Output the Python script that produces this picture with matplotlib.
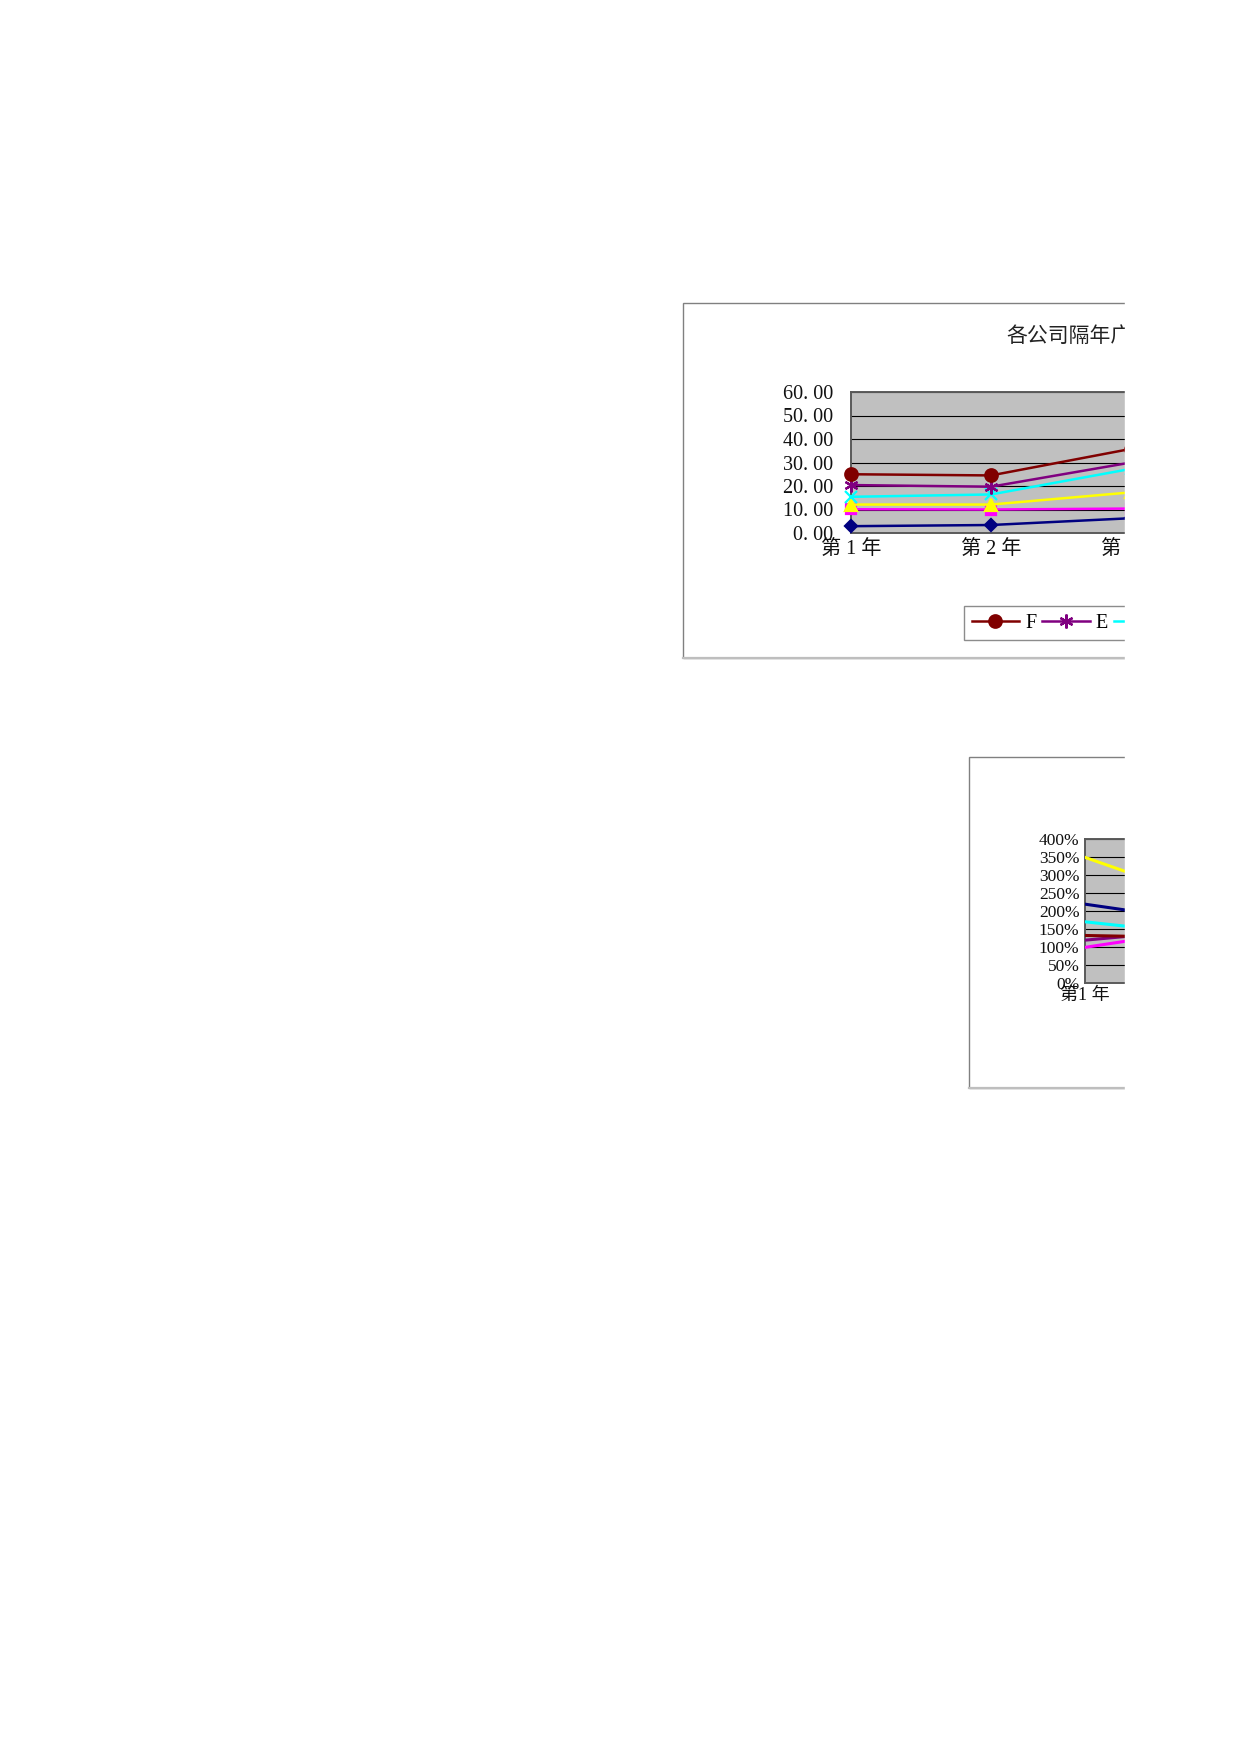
import matplotlib
matplotlib.use('Agg')
import matplotlib.pyplot as plt
from matplotlib.patches import Rectangle
from matplotlib.lines import Line2D
from matplotlib.ticker import FuncFormatter, MultipleLocator

W, H = 1240, 1754

# chart 1: yearly values per company
years1 = ['第 1 年', '第 2 年', '第 3 年']
a1 = [2.9, 3.4, 6.3]
b1 = [10.1, 10.0, 10.4]
c1 = [12.1, 12.1, 17.3]
d1 = [15.4, 16.4, 27.3]
e1 = [20.4, 19.7, 30.0]
f1 = [25.0, 24.5, 35.8]

# chart 2: growth rates (%)
years2 = ['第1 年', '第2 年', '第3 年']
a2 = [219, 179, 170]
b2 = [99, 141, 150]
c2 = [349, 252, 230]
d2 = [170, 140, 135]
e2 = [119, 144, 150]
f2 = [132, 127, 125]

title1 = '各公司隔年广告费'

serif = ['Liberation Serif', 'Noto Sans CJK SC']
cjk = ['Noto Sans CJK SC', 'DejaVu Sans']

fig = plt.figure(figsize=(W / 100, H / 100), dpi=100)
fig.patch.set_facecolor('white')


def box(x0, y0, x1, y1):
    return [x0 / W, 1 - y1 / H, (x1 - x0) / W, (y1 - y0) / H]


# outer chart frames
for (x0, y0, x1, y1) in [(683, 303, 1300, 658), (969, 757, 1300, 1088)]:
    fig.patches.append(Rectangle((x0 / W, 1 - y1 / H), (x1 - x0) / W, (y1 - y0) / H,
                                 transform=fig.transFigure, fill=False,
                                 edgecolor='#808080', lw=1.0))
    fig.lines.append(Line2D([x0 / W, x1 / W], [1 - y1 / H, 1 - y1 / H],
                            transform=fig.transFigure, color='#BEBEBE', lw=1.6))

# drawn A first (bottom) ... F last, legend lists F first
styles = [
    ('A', '#000080', 'D', 6),
    ('B', '#FF00FF', 's', 7),
    ('C', '#FFFF00', '^', 9),
    ('D', '#00FFFF', 'x', 8),
    ('E', '#800080', (6, 2, 0), 10),
    ('F', '#800000', 'o', 9),
]


def style_axes(ax, lw_spine):
    ax.set_facecolor('#C0C0C0')
    for s in ax.spines.values():
        s.set_color('#5A5A5A')
        s.set_linewidth(lw_spine)
    ax.yaxis.grid(True, color='black', lw=0.8)
    ax.set_axisbelow(True)


# ---- chart 1
ax1 = fig.add_axes(box(851, 392, 1131, 533))
style_axes(ax1, 1.4)
series1 = [a1, b1, c1, d1, e1, f1]
x1 = list(range(len(years1)))
for i, ((name, col, mk, ms), vals) in enumerate(zip(styles, series1)):
    ax1.plot(x1, vals, color=col, lw=1.8, marker=mk, markersize=ms,
             markeredgewidth=1.6, label=name, clip_on=False, zorder=3 + i)
ax1.set_xlim(0, len(years1) - 1)
ax1.set_ylim(0, 60)
ax1.yaxis.set_major_locator(MultipleLocator(10))
ax1.yaxis.set_major_formatter(FuncFormatter(lambda v, p: f'{v:.2f}'.replace('.', '. ')))
ax1.set_xticks(x1)
ax1.set_xticklabels(years1)
ax1.tick_params(length=0)
ax1.tick_params(axis='y', pad=13)
ax1.tick_params(axis='x', pad=6)
for lab in ax1.get_yticklabels() + ax1.get_xticklabels():
    lab.set_fontfamily(serif)
    lab.set_fontsize(14.5)
    lab.set_color('#111111')

fig.text(1006 / W, 1 - 336 / H, title1, family=cjk, fontsize=15,
         color='#222222', ha='left', va='center')

h, l = ax1.get_legend_handles_labels()
leg = fig.legend(h[::-1], l[::-1], loc='center left',
                 bbox_to_anchor=(964 / W, 1 - 623 / H),
                 ncol=6, frameon=True, fancybox=False, edgecolor='#707070',
                 prop={'family': serif, 'size': 14.5}, handlelength=2.35,
                 handletextpad=0.3, columnspacing=0.3, borderpad=0.38,
                 borderaxespad=0)
leg.get_frame().set_linewidth(1.0)

# ---- chart 2
ax2 = fig.add_axes(box(1085, 839, 1285, 983))
style_axes(ax2, 1.4)
series2 = [a2, b2, c2, d2, e2, f2]
x2 = list(range(len(years2)))
for i, ((name, col, mk, ms), vals) in enumerate(zip(styles, series2)):
    ax2.plot(x2, vals, color=col, lw=2.2, label=name, zorder=3 + i)
ax2.set_xlim(0, len(years2) - 1)
ax2.set_ylim(0, 400)
ax2.yaxis.set_major_locator(MultipleLocator(50))
ax2.yaxis.set_major_formatter(FuncFormatter(lambda v, p: f'{v:.0f}%'))
ax2.set_xticks(x2)
ax2.set_xticklabels(years2)
ax2.tick_params(length=0)
ax2.tick_params(axis='y', pad=4)
ax2.tick_params(axis='x', pad=3)
for lab in ax2.get_yticklabels():
    lab.set_fontfamily(serif)
    lab.set_fontsize(12.5)
    lab.set_color('#111111')
for lab in ax2.get_xticklabels():
    lab.set_fontfamily(serif)
    lab.set_fontsize(13)
    lab.set_color('#111111')

# page is cut off on the right
fig.patches.append(Rectangle((1125 / W, 0), 1, 1, transform=fig.transFigure,
                             color='white', zorder=100))

fig.savefig('out.png', dpi=100, facecolor='white')
